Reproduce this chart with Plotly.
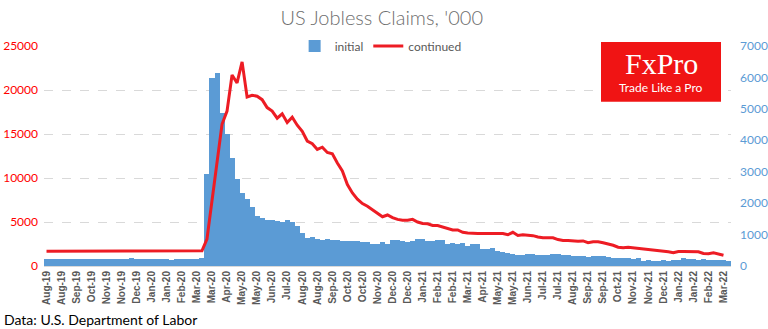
import pandas as pd
import plotly.graph_objects as go

# Weekly periods (week ending Saturday), Aug-2019 .. Mar-2022
weeks = pd.date_range("2019-08-10", periods=137, freq="W-SAT")
tick_step = 3
tick_idx = list(range(0, len(weeks), tick_step))
tick_labels = [weeks[i].strftime("%b-%y") for i in tick_idx]

left_ticks = [0, 5000, 10000, 15000, 20000, 25000]
right_ticks = [0, 1000, 2000, 3000, 4000, 5000, 6000, 7000]

# Initial claims, '000 (right axis)
initial = [
    215, 210, 215, 212, 215, 218, 213, 215, 214, 216, 218, 215, 217, 220, 222, 228,
    213, 248, 235, 222, 225, 214, 212, 216, 209, 200, 212, 213, 215, 218, 215, 251,
    2920, 5970, 6140, 4870, 4200, 3440, 2770, 2320, 2130, 1880, 1590, 1530, 1465, 1465,
    1430, 1400, 1465, 1400, 1275, 1050, 890, 910, 850, 843, 875, 843, 843, 780,
    780, 811, 780, 748, 748, 716, 716, 748, 716, 843, 843, 780, 748, 780, 875,
    875, 811, 811, 843, 830, 700, 742, 700, 742, 636, 700, 700, 541, 541, 573,
    477, 445, 414, 382, 350, 350, 382, 382, 350, 350, 350, 382, 382, 350, 350,
    318, 318, 318, 286, 318, 318, 318, 286, 254, 254, 254, 254, 223, 254, 159,
    191, 159, 159, 191, 159, 191, 191, 254, 223, 223, 191, 223, 191, 191, 191,
    191, 159,
]

# Continued claims, '000 (left axis)
continued = [
    1680, 1680, 1680, 1680, 1680, 1680, 1680, 1680, 1680, 1680, 1680, 1680, 1680, 1680,
    1680, 1680, 1680, 1740, 1740, 1740, 1740, 1740, 1740, 1740, 1740, 1660, 1730, 1730,
    1730, 1730, 1730, 1730,
    3070, 7400, 11900, 16100, 17600, 21700, 20800, 23200, 19200, 19400, 19300, 18900,
    18000, 17600, 16800, 17300, 16300, 16900, 16000, 15300, 14200, 13900, 13250, 13500,
    12900, 12750, 11700, 10800, 9260, 8300, 7600, 7100, 6800, 6400, 6050, 5600, 5800,
    5500, 5300, 5200, 5200, 5300, 5000, 4830, 4800, 4600, 4600, 4450, 4250, 4100, 4100,
    3830, 3760, 3700, 3700, 3700, 3700, 3700, 3700, 3700, 3550, 3830, 3470, 3550, 3500,
    3450, 3300, 3200, 3200, 3200, 3000, 2900, 2900, 2850, 2800, 2850, 2650, 2750, 2750,
    2640, 2520, 2360, 2140, 2070, 2140, 2070, 2050, 1950, 1880, 1860, 1760, 1740, 1610,
    1500, 1650, 1650, 1650, 1650, 1610, 1420, 1400, 1500, 1400, 1230, None,
]

x = list(range(len(weeks)))
FONT = "Lato"
BLUE = "#5B9BD5"
RED = "#ED1C24"

fig = go.Figure()
# bars on primary axis (drawn at right), line on overlaying axis (drawn at left, on top)
fig.add_trace(go.Bar(x=x, y=initial, name="initial", marker=dict(color=BLUE, line=dict(width=0)),
                     yaxis="y"))
fig.add_trace(go.Scatter(x=x, y=continued, name="continued", mode="lines",
                         line=dict(color=RED, width=3), yaxis="y2"))

fig.update_layout(
    width=768, height=329,
    margin=dict(l=44, r=37, t=46, b=63, autoexpand=False),
    paper_bgcolor="white", plot_bgcolor="white",
    bargap=0,
    font=dict(family=FONT),
    title=dict(text="US Jobless Claims, '000", x=0.497, xanchor="center", y=0.945, yanchor="middle",
               font=dict(family=FONT, size=20, color="#6E6E6E", weight=300)),
    showlegend=True,
    legend=dict(orientation="h", x=0.49, xanchor="center", y=1.0, yanchor="middle",
                font=dict(family=FONT, size=12, color="#595959"), bgcolor="rgba(0,0,0,0)",
                traceorder="normal", itemwidth=30),
    xaxis=dict(range=[-0.5, len(weeks) - 0.5], tickmode="array", tickvals=tick_idx,
               ticktext=tick_labels, tickangle=-90, showgrid=False, zeroline=False,
               showline=True, linecolor="#D9D9D9", linewidth=1, ticks="", automargin=False,
               tickfont=dict(family="Liberation Sans", size=10, color="#595959", weight="bold")),
    yaxis=dict(range=[0, 7000], tickmode="array", tickvals=right_ticks,
               ticktext=[str(v) for v in right_ticks], side="right", showgrid=False,
               zeroline=False, ticks="", tickfont=dict(family=FONT, size=12, color=BLUE),
               ticklabelstandoff=8, automargin=False),
    yaxis2=dict(range=[0, 25000], tickmode="array", tickvals=left_ticks,
                ticktext=[str(v) for v in left_ticks], overlaying="y", side="left",
                tickfont=dict(family=FONT, size=12, color="#FF0000"), showgrid=True,
                gridcolor="#D9D9D9", griddash="dash", gridwidth=1, zeroline=False, ticks="",
                ticklabelstandoff=5, automargin=False),
)

# Logo box
fig.add_shape(type="rect", xref="paper", yref="paper", x0=(601 - 44) / 687, x1=(721 - 44) / 687,
              y0=(266.5 - 102) / 220.5, y1=(266.5 - 42) / 220.5,
              fillcolor="#F01414", line=dict(width=0), layer="above")
fig.add_annotation(text="FxPro", xref="paper", yref="paper", x=(661 - 44) / 687, y=(266.5 - 64) / 220.5,
                   showarrow=False, font=dict(family="Liberation Serif", size=30, color="white"),
                   xanchor="center", yanchor="middle")
fig.add_annotation(text="Trade Like a Pro", xref="paper", yref="paper", x=(661 - 44) / 687,
                   y=(266.5 - 88) / 220.5, showarrow=False,
                   font=dict(family=FONT, size=12, color="white"), xanchor="center", yanchor="middle")
# Source
fig.add_annotation(text="Data: U.S. Department of Labor", xref="paper", yref="paper",
                   x=-42 / 687, y=-(320 - 266.5) / 220.5, showarrow=False, xanchor="left",
                   yanchor="middle", font=dict(family=FONT, size=14, color="#000000"))

fig.write_html("out.html")
